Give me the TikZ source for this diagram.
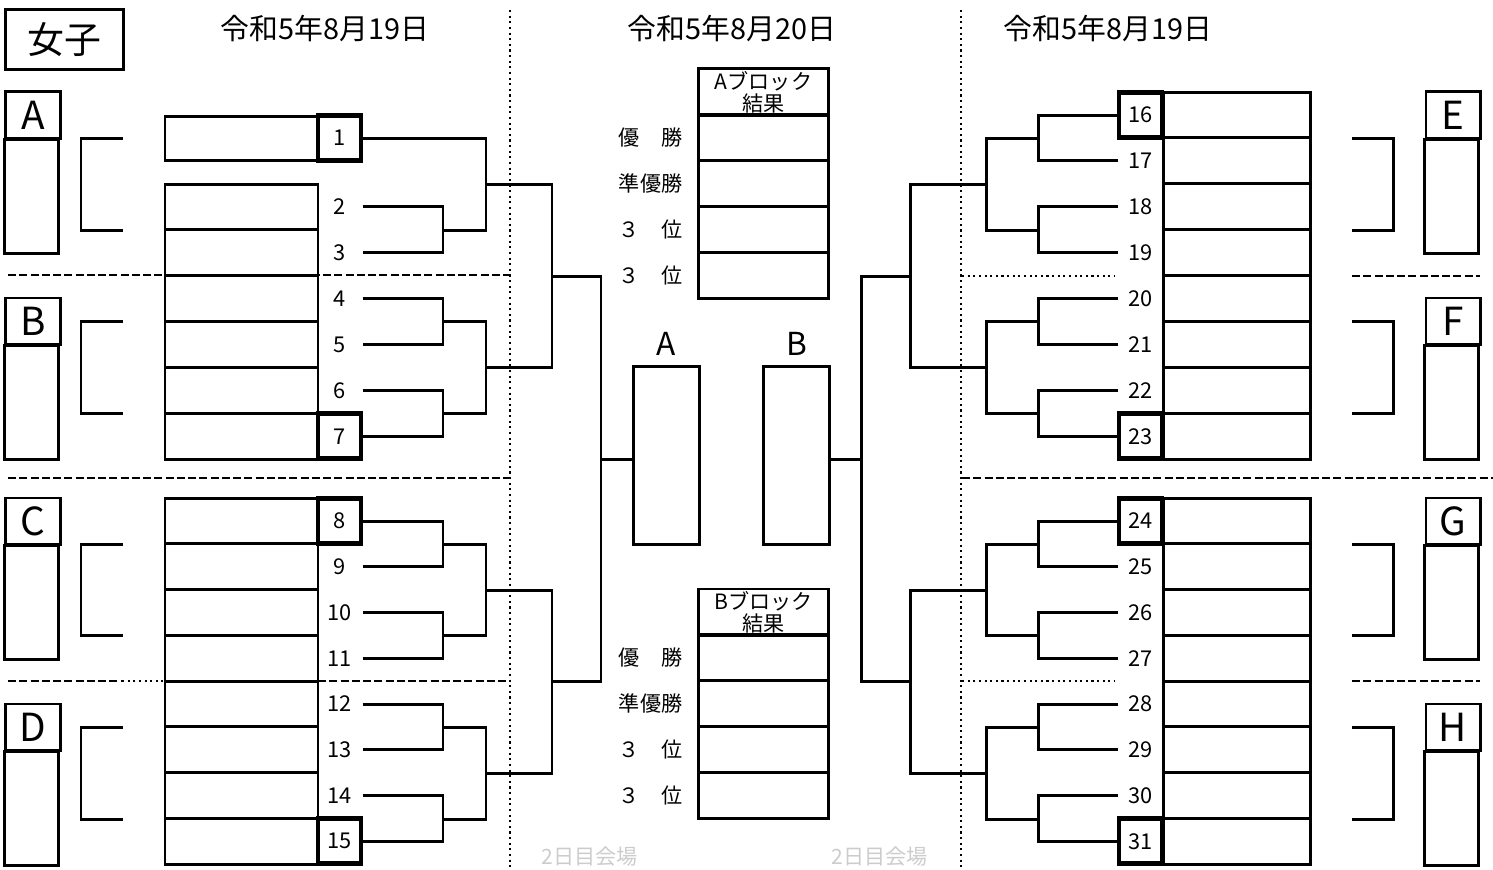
\documentclass[tikz,border=0pt]{standalone}
\usepackage{fontspec}
\setmainfont{Noto Sans CJK JP}

\begin{document}
\begin{tikzpicture}[x=0.01cm, y=-0.01cm, line width=0.85pt,
        num/.style={minimum width=0.43cm, minimum height=0.45cm, inner sep=0pt,
            font=\fontsize{6.2pt}{7pt}\selectfont},
        seed/.style={num, draw, line width=1.4pt},
        grp/.style={draw, minimum width=0.54cm, minimum height=0.46cm, inner sep=0pt,
            font=\fontsize{11pt}{11pt}\selectfont},
        res/.style={draw, minimum width=1.29cm, minimum height=0.46cm, inner sep=0pt},
        lbl/.style={font=\fontsize{6pt}{7pt}\selectfont},
        day/.style={font=\fontsize{8.2pt}{9pt}\selectfont},
        part/.style={dash pattern=on 2.3pt off 0.9pt, line width=0.7pt},
        sep/.style={densely dotted, line width=0.6pt}]
    \useasboundingbox (0,0) rectangle (1493,869);
    \clip (0,0) rectangle (1493,869);

    % headings
    \node[draw, minimum width=1.17cm, minimum height=0.59cm,
        font=\fontsize{10.5pt}{10.5pt}\selectfont] (title) at (64.5,39.5) {女子};
    \node[day] (dayL) at (325,28) {令和5年8月19日};
    \node[day] (dayM) at (732,28) {令和5年8月20日};
    \node[day] (dayR) at (1108,28) {令和5年8月19日};

    % separators
    \draw[sep] (510,10) -- (510,869);
    \draw[sep] (961,10) -- (961,869);
    \draw[part] (8,275) -- (510,275);
    \draw[part] (8,478) -- (510,478);
    \draw[part] (8,681) -- (122,681);
    \draw[sep] (122,681) -- (165,681);
    \draw[part] (318,681) -- (510,681);
    \draw[sep] (962,276) -- (1115,276);
    \draw[sep] (962,681) -- (1115,681);
    \draw[part] (962,478) -- (1493,478);
    \draw[part] (1352,276) -- (1480,276);
    \draw[part] (1352,681) -- (1480,681);

    % group boxes and brackets
    \foreach \g/\x/\y in {A/33/115, B/33/321, C/33/521, D/33/727,
            E/1453/115, F/1453/321, G/1453/521, H/1453/727}{
        \node[grp] (g\g) at (\x,\y) {\g};
        \draw (g\g.south west) rectangle ++(54,114);
    }
    \foreach \a/\b in {138/230, 321/413, 544/635, 727/819}{
        \draw (123,\a) -| (81,\b) -- (123,\b);
        \draw (1352,\a) -| (1393,\b) -- (1352,\b);
    }

    % name boxes
    \draw (165,116) rectangle (318,160);
    \draw (165,184) rectangle (318,459);
    \foreach \k in {1,...,5} \draw (165,{184+45.8*\k}) -- (318,{184+45.8*\k});
    \draw (165,498) rectangle (318,864);
    \foreach \k in {1,...,7} \draw (165,{498+45.75*\k}) -- (318,{498+45.75*\k});
    \draw (1163,92) rectangle (1310,459);
    \foreach \k in {1,...,7} \draw (1163,{92+45.9*\k}) -- (1310,{92+45.9*\k});
    \draw (1163,498) rectangle (1310,864);
    \foreach \k in {1,...,7} \draw (1163,{498+45.75*\k}) -- (1310,{498+45.75*\k});

    % draw numbers
    \node[seed] (n1) at (339.5,138) {1};
    \foreach \k/\s in {2/num,3/num,4/num,5/num,6/num,7/seed}
        \node[\s] (n\k) at (339.5,{115+45.9*\k}) {\k};
    \foreach \k/\s in {8/seed,9/num,10/num,11/num,12/num,13/num,14/num,15/seed}
        \node[\s] (n\k) at (339.5,{521+45.75*(\k-8)}) {\k};
    \foreach \k/\s in {16/seed,17/num,18/num,19/num,20/num,21/num,22/num,23/seed}
        \node[\s] (n\k) at (1140.5,{115+45.9*(\k-16)}) {\k};
    \foreach \k/\s in {24/seed,25/num,26/num,27/num,28/num,29/num,30/num,31/seed}
        \node[\s] (n\k) at (1140.5,{521+45.75*(\k-24)}) {\k};

    % left bracket
    \foreach \a/\b/\m in {2/3/230, 4/5/321, 6/7/413, 8/9/544, 10/11/635, 12/13/727, 14/15/819}{
        \coordinate (m\a) at (443,\m);
        \draw (n\a.east) -| (m\a) |- (n\b.east);
    }
    \foreach \a/\b/\c/\m in {n1.east/m2/q1/184, m4/m6/q2/367, m8/m10/q3/590, m12/m14/q4/773}{
        \coordinate (\c) at (486,\m);
        \draw (\a) -| (\c) |- (\b);
    }
    \coordinate (s1) at (552,276);
    \coordinate (s2) at (552,681);
    \draw (q1) -| (s1) |- (q2);
    \draw (q3) -| (s2) |- (q4);

    % right bracket
    \foreach \a/\b/\m in {16/17/138, 18/19/230, 20/21/321, 22/23/413,
            24/25/544, 26/27/635, 28/29/727, 30/31/819}{
        \coordinate (m\a) at (1038,\m);
        \draw (n\a.west) -| (m\a) |- (n\b.west);
    }
    \foreach \a/\b/\c/\m in {m16/m18/r1/184, m20/m22/r2/367, m24/m26/r3/590, m28/m30/r4/773}{
        \coordinate (\c) at (986,\m);
        \draw (\a) -| (\c) |- (\b);
    }
    \coordinate (t1) at (910,276);
    \coordinate (t2) at (910,681);
    \draw (r1) -| (t1) |- (r2);
    \draw (r3) -| (t2) |- (r4);

    % final
    \node[draw, minimum width=0.65cm, minimum height=1.77cm] (boxA) at (666.5,455.5) {};
    \node[draw, minimum width=0.65cm, minimum height=1.77cm] (boxB) at (796.5,455.5) {};
    \node[font=\fontsize{9pt}{9pt}\selectfont] (labA) at (666.5,344) {A};
    \node[font=\fontsize{9pt}{9pt}\selectfont] (labB) at (796.5,344) {B};
    \coordinate (f1) at (601,459);
    \coordinate (f2) at (861,459);
    \draw (s1) -| (f1) |- (s2);
    \draw (f1) -- (boxA.west |- f1);
    \draw (t1) -| (f2) |- (t2);
    \draw (f2) -- (boxB.east |- f2);

    % block results
    \foreach \b/\y in {A/92, B/612}{
        \node[res, align=center, font=\fontsize{6pt}{6.3pt}\selectfont] (res\b) at (763.5,\y)
            {\b ブロック\\結果};
        \foreach \k/\t in {1/優　勝, 2/準優勝, 3/３　位, 4/３　位}{
            \node[res] (res\b\k) at (763.5,{\y+45.8*\k}) {};
            \node[lbl, left=0.02cm] (pl\b\k) at (res\b\k.west) {\t};
        }
    }

    \node[text=gray!40, lbl] (hall1) at (590,857) {2日目会場};
    \node[text=gray!40, lbl] (hall2) at (880,857) {2日目会場};
\end{tikzpicture}
\end{document}
